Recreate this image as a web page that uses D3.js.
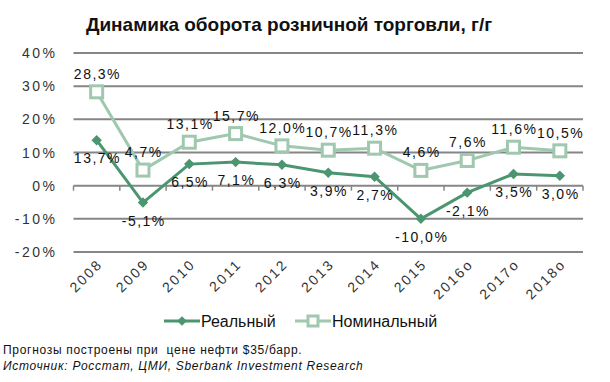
<!DOCTYPE html>
<html>
<head>
<meta charset="utf-8">
<script src="https://cdnjs.cloudflare.com/ajax/libs/d3/7.8.5/d3.min.js"></script>
<style>
  body { margin: 0; background: #fff; }
  text { font-family: "Liberation Sans", Arial, sans-serif; }
</style>
</head>
<body>
<div id="chart"></div>
<script>
var years = ["2008", "2009", "2010", "2011", "2012", "2013", "2014", "2015", "2016о", "2017о", "2018о"];
var real = [13.7, -5.1, 6.5, 7.1, 6.3, 3.9, 2.7, -10.0, -2.1, 3.5, 3.0];
var nominal = [28.3, 4.7, 13.1, 15.7, 12.0, 10.7, 11.3, 4.6, 7.6, 11.6, 10.5];
var yTicks = [-20, -10, 0, 10, 20, 30, 40];

var width = 610, height = 382;
var darkGreen = "#4b9670", lightGreen = "#9fc8af";

var svg = d3.select("#chart").append("svg")
    .attr("width", width)
    .attr("height", height);

var x = d3.scaleBand().domain(years).range([73.5, 583]);
var y = d3.scaleLinear().domain([-20, 40]).range([252, 53]);
var cx = function(d, i) { return x(years[i]) + x.bandwidth() / 2; };
var fmt = function(v) { return v.toFixed(1).replace(".", ",") + "%"; };

// title
svg.append("text")
    .attr("x", 289).attr("y", 31)
    .attr("text-anchor", "middle")
    .attr("font-size", 19)
    .attr("font-weight", "bold")
    .attr("fill", "#111")
    .text("Динамика оборота розничной торговли, г/г");

// gridlines
svg.append("g").selectAll("line")
    .data(yTicks)
    .enter().append("line")
    .attr("x1", 73.5).attr("x2", 583)
    .attr("y1", function(d) { return y(d); })
    .attr("y2", function(d) { return y(d); })
    .attr("stroke", "#868686")
    .attr("stroke-width", 2);

// y labels
svg.append("g").selectAll("text")
    .data(yTicks)
    .enter().append("text")
    .attr("x", 57.5)
    .attr("y", function(d) { return y(d) + 5; })
    .attr("text-anchor", "end")
    .attr("font-size", 14)
    .attr("letter-spacing", 2.5)
    .attr("fill", "#333")
    .text(function(d) { return d + "%"; });

// category ticks on zero line
var bounds = years.map(function(d) { return x(d); }).concat([583]);
svg.append("g").selectAll("line")
    .data(bounds)
    .enter().append("line")
    .attr("x1", function(d) { return d; }).attr("x2", function(d) { return d; })
    .attr("y1", y(0)).attr("y2", y(0) + 5)
    .attr("stroke", "#868686")
    .attr("stroke-width", 1.5);

// x labels
svg.append("g").selectAll("text")
    .data(years)
    .enter().append("text")
    .attr("text-anchor", "end")
    .attr("font-size", 14)
    .attr("letter-spacing", 2.2)
    .attr("fill", "#333")
    .attr("transform", function(d) {
        return "translate(" + (x(d) + x.bandwidth() / 2 + 7) + ",265) rotate(-45)";
    })
    .text(function(d) { return d; });

var line = d3.line()
    .x(cx)
    .y(function(d) { return y(d); });

// nominal series
svg.append("path")
    .datum(nominal)
    .attr("d", line)
    .attr("fill", "none")
    .attr("stroke", lightGreen)
    .attr("stroke-width", 3);

svg.append("g").selectAll("rect")
    .data(nominal)
    .enter().append("rect")
    .attr("x", function(d, i) { return cx(d, i) - 6; })
    .attr("y", function(d) { return y(d) - 6; })
    .attr("width", 12).attr("height", 12)
    .attr("fill", "#fff")
    .attr("stroke", lightGreen)
    .attr("stroke-width", 3);

// real series
svg.append("path")
    .datum(real)
    .attr("d", line)
    .attr("fill", "none")
    .attr("stroke", darkGreen)
    .attr("stroke-width", 3);

svg.append("g").selectAll("path")
    .data(real)
    .enter().append("path")
    .attr("d", d3.symbol().type(d3.symbolDiamond2).size(70))
    .attr("transform", function(d, i) { return "translate(" + cx(d, i) + "," + y(d) + ")"; })
    .attr("fill", darkGreen);

// data labels
svg.append("g").selectAll("text")
    .data(nominal)
    .enter().append("text")
    .attr("x", function(d, i) { return cx(d, i) + 0.8; })
    .attr("y", function(d) { return y(d) - 13; })
    .attr("text-anchor", "middle")
    .attr("font-size", 14)
    .attr("letter-spacing", 1.5)
    .attr("fill", "#111")
    .text(fmt);

svg.append("g").selectAll("text")
    .data(real)
    .enter().append("text")
    .attr("x", function(d, i) { return cx(d, i) + 0.8; })
    .attr("y", function(d) { return y(d) + 23; })
    .attr("text-anchor", "middle")
    .attr("font-size", 14)
    .attr("letter-spacing", 1.5)
    .attr("fill", "#111")
    .text(fmt);

// legend
var lg = svg.append("g");
lg.append("line").attr("x1", 164).attr("x2", 200).attr("y1", 321).attr("y2", 321)
    .attr("stroke", darkGreen).attr("stroke-width", 3);
lg.append("path").attr("d", d3.symbol().type(d3.symbolDiamond2).size(60))
    .attr("transform", "translate(182,321)").attr("fill", darkGreen);
lg.append("text").attr("x", 201).attr("y", 327).attr("font-size", 16).attr("fill", "#111").text("Реальный");
lg.append("line").attr("x1", 295).attr("x2", 331).attr("y1", 321).attr("y2", 321)
    .attr("stroke", lightGreen).attr("stroke-width", 3);
lg.append("rect").attr("x", 308).attr("y", 316).attr("width", 10).attr("height", 10)
    .attr("fill", "#fff").attr("stroke", lightGreen).attr("stroke-width", 3);
lg.append("text").attr("x", 332).attr("y", 327).attr("font-size", 16).attr("fill", "#111").text("Номинальный");

// notes
svg.append("text").attr("x", 3).attr("y", 354).attr("font-size", 12).attr("letter-spacing", 0.7).attr("fill", "#111")
    .attr("xml:space", "preserve")
    .text("Прогнозы построены при  цене нефти $35/барр.");
svg.append("text").attr("x", 3).attr("y", 370).attr("font-size", 12).attr("letter-spacing", 0.7)
    .attr("font-style", "italic").attr("fill", "#111")
    .text("Источник: Росстат, ЦМИ, Sberbank Investment Research");
</script>
</body>
</html>
